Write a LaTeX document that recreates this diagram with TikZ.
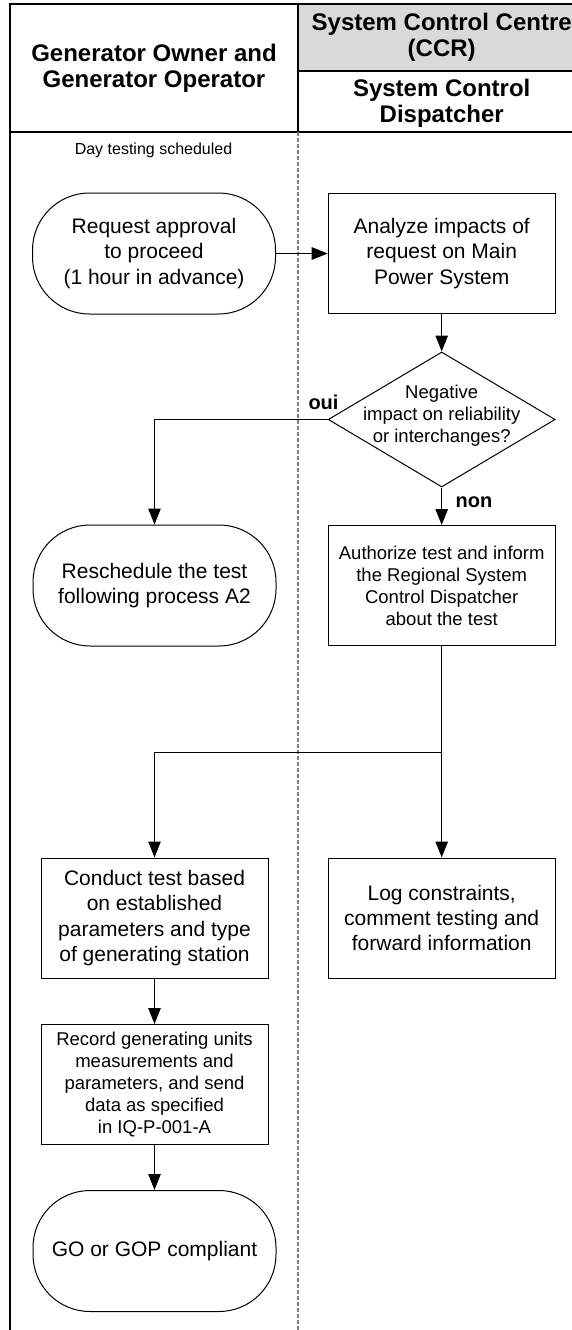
\documentclass[tikz,border=0pt]{standalone}
\usepackage{fontspec}
\setmainfont{Liberation Sans}
\usetikzlibrary{arrows.meta, shapes.geometric}
\newcommand{\hdfont}{\fontsize{24}{26}\selectfont\bfseries}
\newcommand{\bodyfont}{\fontsize{21}{25.3}\selectfont}
\newcommand{\smallfont}{\fontsize{18.5}{22}\selectfont}

\tikzset{
  frame/.style={line width=2pt},
  lane/.style={draw=gray, line width=1.2pt, dash pattern=on 4pt off 2pt},
  process/.style={draw, line width=1pt, minimum width=227pt, minimum height=120pt, align=center, font=\bodyfont},
  terminal/.style={draw, line width=1pt, rounded corners=57pt, minimum width=243pt, minimum height=121pt, align=center, font=\bodyfont},
  decision/.style={diamond, draw, line width=1pt, minimum width=227pt, minimum height=135pt, inner sep=0pt},
  flow/.style={line width=1pt, -{Triangle[length=16pt,width=12.5pt]}},
  lbl/.style={font=\fontsize{20}{22}\selectfont\bfseries, inner sep=0pt}
}

\begin{document}
\begin{tikzpicture}[x=1pt, y=-1pt]
  \useasboundingbox (0,0) rectangle (572,1330);
  \clip (0,0) rectangle (572,1330);

  % header
  \fill[gray!30] (298,4) rectangle (572,71);
  \draw[frame] (10,1330) -- (10,4) -- (572,4);
  \draw[frame] (10,132) -- (572,132);
  \draw[frame] (298,4) -- (298,132);
  \draw[frame] (298,71) -- (572,71);
  \draw[lane] (298,132) -- (298,1330);
  \node[align=center, font=\hdfont] (gohead) at (154,68) {Generator Owner and\\Generator Operator};
  \node[align=center, font=\hdfont] (ccrhead) at (441.7,37) {System Control Centre\\(CCR)};
  \node[align=center, font=\hdfont] (scdhead) at (441.7,103) {System Control\\Dispatcher};

  % left lane
  \node[font=\fontsize{16}{19}\selectfont] (start) at (153.5,150) {Day testing scheduled};
  \node[terminal] (req) at (154,253.5) {Request approval\\to proceed\\(1 hour in advance)};
  \node[terminal] (resch) at (154.5,585.5) {Reschedule the test\\following process A2};
  \node[process] (cond) at (154.5,918) {Conduct test based\\on established\\parameters and type\\of generating station};
  \node[process, font=\smallfont] (rec) at (154.5,1084.5) {Record generating units\\measurements and\\parameters, and send\\data as specified\\in IQ-P-001-A};
  \node[terminal] (go) at (154.5,1251) {GO or GOP compliant};

  % right lane
  \node[process] (ana) at (441.7,253.5) {Analyze impacts of\\request on Main\\Power System};
  \node[decision] (neg) at (441.7,419.5) {};
  \node[align=center, font=\smallfont] (negtxt) at (441.7,416) {Negative\\impact on reliability\\or interchanges?};
  \node[process, font=\smallfont] (auth) at (441.7,585.5) {Authorize test and inform\\the Regional System\\Control Dispatcher\\about the test};
  \node[process] (log) at (441.7,918) {Log constraints,\\comment testing and\\forward information};
  \coordinate (split) at ([yshift=-106pt]auth.south);

  % connectors
  \draw[flow] (req) -- (ana);
  \draw[flow] (ana) -- (neg);
  \draw[flow] (neg.west) -| (resch);
  \node[lbl] (oui) at (323.5,402) {oui};
  \draw[flow] (neg) -- (auth);
  \node[lbl] (non) at (474,502) {non};
  \draw[line width=1pt] (auth) -- (split);
  \draw[flow] (split) -| (cond);
  \draw[flow] (split) -- (log);
  \draw[flow] (cond) -- (rec);
  \draw[flow] (rec) -- (go);
\end{tikzpicture}
\end{document}
